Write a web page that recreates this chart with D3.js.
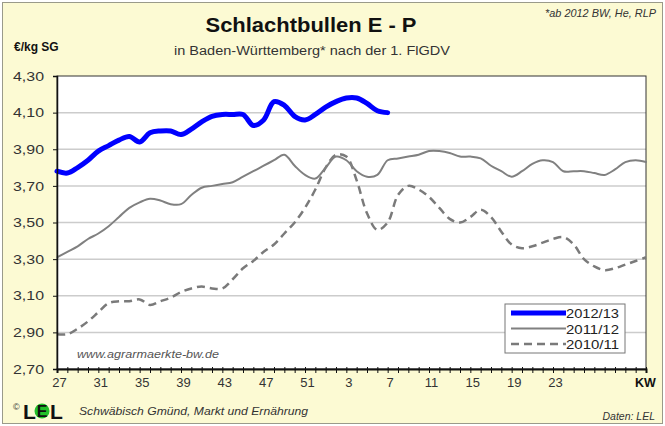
<!DOCTYPE html>
<html>
<head>
<meta charset="utf-8">
<script src="https://cdn.jsdelivr.net/npm/d3@7"></script>
<style>
  body { margin: 0; background: #fff; }
  svg { display: block; font-family: "Liberation Sans", Arial, sans-serif; }
</style>
</head>
<body>
<svg id="chart" width="665" height="426"></svg>
<script>
// Kalenderwochen (KW) 27..52, dann 1..32
const weeks = [27,28,29,30,31,32,33,34,35,36,37,38,39,40,41,42,43,44,45,46,47,48,49,50,51,52,
               1,2,3,4,5,6,7,8,9,10,11,12,13,14,15,16,17,18,19,20,21,22,23,24,25,26,27,28,29,30,31,32]
const labelWeeks = [27,31,35,39,43,47,51,3,7,11,15,19,23]
const yTicks = [2.7,2.9,3.1,3.3,3.5,3.7,3.9,4.1,4.3]

// Preise EUR/kg SG
const s2012 = [3.78,3.77,3.80,3.84,3.89,3.92,3.95,3.97,3.94,3.99,4.00,4.00,3.98,4.01,4.05,4.08,
               4.09,4.09,4.09,4.03,4.06,4.16,4.14,4.08,4.06,4.09,4.13,4.16,4.18,4.18,4.15,4.11,4.10]
const s2011 = [3.31,3.34,3.37,3.41,3.44,3.48,3.53,3.58,3.61,3.63,3.62,3.60,3.60,3.65,3.69,3.70,
               3.71,3.72,3.75,3.78,3.81,3.84,3.87,3.81,3.76,3.74,3.80,3.86,3.84,3.78,3.75,3.76,
               3.84,3.85,3.86,3.87,3.89,3.89,3.88,3.86,3.86,3.85,3.81,3.78,3.75,3.78,3.82,3.84,
               3.83,3.78,3.78,3.78,3.77,3.76,3.79,3.83,3.84,3.83]
const s2010 = [2.89,2.89,2.92,2.96,3.01,3.06,3.07,3.07,3.08,3.05,3.07,3.09,3.12,3.14,3.15,3.14,
               3.14,3.19,3.25,3.29,3.34,3.38,3.44,3.50,3.58,3.68,3.80,3.87,3.86,3.73,3.55,3.46,
               3.50,3.65,3.70,3.68,3.64,3.58,3.52,3.50,3.53,3.57,3.53,3.45,3.38,3.36,3.37,3.39,
               3.41,3.42,3.38,3.30,3.26,3.24,3.25,3.27,3.29,3.31]

const series = [
  {name: "2012/13", values: s2012, color: "#0000ff", width: 5, dash: null},
  {name: "2011/12", values: s2011, color: "#808080", width: 2, dash: null},
  {name: "2010/11", values: s2010, color: "#7a7a7a", width: 2.5, dash: "8,5"}
]

const svg = d3.select("#chart")
const W = 665, H = 426
const plot = {left: 57, right: 646, top: 76, bottom: 369}

const fmt = d3.formatLocale({decimal: ",", thousands: ".", grouping: [3], currency: ["", "€"]}).format(".2f")

// Hintergrund
svg.append("rect").attr("x", 2.5).attr("y", 2.5).attr("width", W - 5).attr("height", H - 5)
   .attr("fill", "#fcfad3").attr("stroke", "#9a9a8a").attr("stroke-width", 1)

var x = d3.scaleLinear().domain([0, weeks.length - 1]).range([plot.left, plot.right])
var y = d3.scaleLinear().domain([2.7, 4.3]).range([plot.bottom, plot.top])

svg.append("rect")
   .attr("x", plot.left).attr("y", plot.top)
   .attr("width", plot.right - plot.left).attr("height", plot.bottom - plot.top)
   .attr("fill", "#ffffff")

// Gitternetz
svg.append("g").selectAll("line")
   .data(yTicks.slice(1, -1))
   .enter().append("line")
   .attr("x1", plot.left).attr("x2", plot.right)
   .attr("y1", d => y(d)).attr("y2", d => y(d))
   .attr("stroke", "#cccccc").attr("stroke-width", 1.5)

// Rahmen
svg.append("rect")
   .attr("x", plot.left).attr("y", plot.top)
   .attr("width", plot.right - plot.left).attr("height", plot.bottom - plot.top)
   .attr("fill", "none").attr("stroke", "#333").attr("stroke-width", 1)

// Linien
var line = d3.line()
   .x((d, i) => x(i))
   .y(d => y(d))
   .curve(d3.curveCatmullRom.alpha(0.5))

svg.append("g").selectAll("path")
   .data(series.slice().reverse())
   .enter().append("path")
   .attr("d", d => line(d.values))
   .attr("fill", "none")
   .attr("stroke", d => d.color)
   .attr("stroke-width", d => d.width)
   .attr("stroke-dasharray", d => d.dash)
   .attr("stroke-linejoin", "round")
   .attr("stroke-linecap", d => d.dash ? "butt" : "round")

// Y-Achse
var yAxis = svg.append("g")
   .attr("transform", `translate(${plot.left},0)`)
   .call(d3.axisLeft(y).tickValues(yTicks).tickFormat(fmt).tickSize(4).tickPadding(9))
yAxis.select(".domain").attr("stroke", "#111").attr("stroke-width", 1.5)
yAxis.selectAll("text").attr("font-size", 13).attr("fill", "#333")
   .attr("textLength", 31).attr("lengthAdjust", "spacingAndGlyphs")
yAxis.selectAll(".tick line").attr("stroke", "#111")

// X-Achse
var xAxis = svg.append("g")
   .attr("transform", `translate(0,${plot.bottom})`)
   .call(d3.axisBottom(x)
      .tickValues(d3.range(weeks.length))
      .tickSize(4)
      .tickPadding(5)
      .tickFormat(i => labelWeeks.includes(weeks[i]) && i < 50 ? weeks[i] : ""))
xAxis.select(".domain").attr("stroke", "#111").attr("stroke-width", 2)
xAxis.selectAll(".tick line").attr("stroke", "#111").attr("y1", -2)
xAxis.selectAll("text").attr("font-size", 13).attr("fill", "#333")
   .attr("transform", "translate(2,0)")

// Texte
svg.append("text").attr("x", 311).attr("y", 32).attr("text-anchor", "middle")
   .attr("font-size", 21).attr("font-weight", "bold").attr("fill", "#111")
   .attr("textLength", 211).attr("lengthAdjust", "spacingAndGlyphs")
   .text("Schlachtbullen E - P")
svg.append("text").attr("x", 312).attr("y", 55).attr("text-anchor", "middle")
   .attr("font-size", 12.5).attr("fill", "#333")
   .attr("textLength", 276).attr("lengthAdjust", "spacingAndGlyphs")
   .text("in Baden-Württemberg* nach der 1. FlGDV")
svg.append("text").attr("x", 14).attr("y", 51)
   .attr("font-size", 12).attr("font-weight", "bold").attr("fill", "#111")
   .text("€/kg SG")
svg.append("text").attr("x", 656).attr("y", 17).attr("text-anchor", "end")
   .attr("font-size", 10.5).attr("font-style", "italic").attr("fill", "#333")
   .attr("textLength", 111).attr("lengthAdjust", "spacingAndGlyphs")
   .text("*ab 2012 BW, He, RLP")
svg.append("text").attr("x", 635).attr("y", 387)
   .attr("font-size", 12.5).attr("font-weight", "bold").attr("fill", "#111")
   .text("KW")
svg.append("text").attr("x", 77).attr("y", 358)
   .attr("font-size", 11).attr("font-style", "italic").attr("fill", "#555")
   .attr("textLength", 142).attr("lengthAdjust", "spacingAndGlyphs")
   .text("www.agrarmaerkte-bw.de")

// Legende
var legend = svg.append("g").attr("transform", "translate(505,304)")
legend.append("rect").attr("width", 120).attr("height", 49)
   .attr("fill", "#fff").attr("stroke", "#777").attr("stroke-width", 1)
var item = legend.selectAll("g.item")
   .data(series)
   .enter().append("g")
   .attr("class", "item")
   .attr("transform", (d, i) => `translate(0,${9 + i * 15.5})`)
item.append("line")
   .attr("x1", 6).attr("x2", 61)
   .attr("stroke", d => d.color)
   .attr("stroke-width", d => d.width)
   .attr("stroke-dasharray", d => d.dash)
item.append("text")
   .attr("x", 61).attr("y", 5)
   .attr("font-size", 13).attr("fill", "#222")
   .attr("textLength", 53).attr("lengthAdjust", "spacingAndGlyphs")
   .text(d => d.name)

// Fusszeile
svg.append("text").attr("x", 13).attr("y", 410)
   .attr("font-size", 9).attr("fill", "#333").text("©")
svg.append("text").attr("x", 23).attr("y", 419)
   .attr("font-size", 21).attr("font-weight", "bold").attr("fill", "#111").text("L")
svg.append("circle").attr("cx", 42).attr("cy", 411).attr("r", 7.5).attr("fill", "#22c02a")
svg.append("text").attr("x", 42).attr("y", 417).attr("text-anchor", "middle")
   .attr("font-size", 16).attr("font-weight", "bold").attr("fill", "#111").text("E")
svg.append("text").attr("x", 50).attr("y", 419)
   .attr("font-size", 21).attr("font-weight", "bold").attr("fill", "#111").text("L")
svg.append("text").attr("x", 79).attr("y", 415)
   .attr("font-size", 11).attr("font-style", "italic").attr("fill", "#333")
   .attr("textLength", 229).attr("lengthAdjust", "spacingAndGlyphs")
   .text("Schwäbisch Gmünd, Markt und Ernährung")
svg.append("text").attr("x", 655).attr("y", 420).attr("text-anchor", "end")
   .attr("font-size", 10.5).attr("font-style", "italic").attr("fill", "#333")
   .text("Daten: LEL")
</script>
</body>
</html>
